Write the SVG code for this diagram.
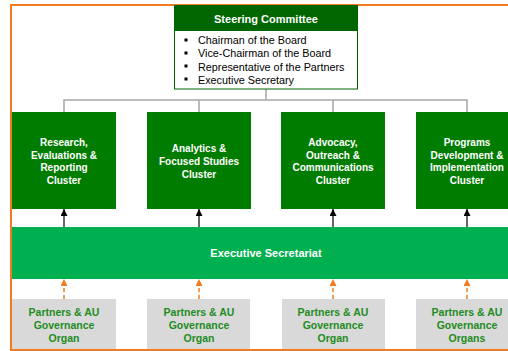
<svg xmlns="http://www.w3.org/2000/svg" width="508" height="351" viewBox="0 0 508 351">
<defs>
<marker id="ab" markerWidth="7" markerHeight="7" refX="7" refY="3.5" orient="auto" markerUnits="userSpaceOnUse" viewBox="0 0 7 7">
<path d="M0,0 L7,3.5 L0,7 Z" fill="#000"/>
</marker>
<marker id="ao" markerWidth="7" markerHeight="7" refX="7" refY="3.5" orient="auto" markerUnits="userSpaceOnUse" viewBox="0 0 7 7">
<path d="M0,0 L7,3.5 L0,7 Z" fill="#f47a20"/>
</marker>
</defs>
<style>
text{font-family:"Liberation Sans",Arial,sans-serif;}
.cl rect{fill:#007c00;}
.cl text{fill:#fff;font-weight:bold;font-size:10px;text-anchor:middle;}
.pa rect{fill:#d9d9d9;}
.pa text{fill:#1e8c1e;font-weight:bold;font-size:10.5px;text-anchor:middle;}
.gl{stroke:#a6a6a6;stroke-width:1.5;fill:none;}
.bl{stroke:#000;stroke-width:1.2;fill:none;}
.ol{stroke:#f47a20;stroke-width:1.5;stroke-dasharray:4,3;fill:none;}
.bt{font-size:10.8px;fill:#000;}
</style>
<rect x="0" y="0" width="508" height="351" fill="#fff"/>
<rect id="frame" x="11" y="5" width="520" height="345" fill="none" stroke="#f47a20" stroke-width="2"/>

<g id="connectors">
<path class="gl" d="M266,89 V100 M64,112 V100 H467 V112 M199,100 V112 M333,100 V112"/>
<line class="bl" x1="64" y1="227" x2="64" y2="209" marker-end="url(#ab)"/>
<line class="bl" x1="199" y1="227" x2="199" y2="209" marker-end="url(#ab)"/>
<line class="bl" x1="333" y1="227" x2="333" y2="209" marker-end="url(#ab)"/>
<line class="bl" x1="467" y1="227" x2="467" y2="209" marker-end="url(#ab)"/>
<line class="ol" x1="64" y1="299" x2="64" y2="279" marker-end="url(#ao)"/>
<line class="ol" x1="199" y1="299" x2="199" y2="279" marker-end="url(#ao)"/>
<line class="ol" x1="333" y1="299" x2="333" y2="279" marker-end="url(#ao)"/>
<line class="ol" x1="467" y1="299" x2="467" y2="279" marker-end="url(#ao)"/>
</g>

<g id="steering">
<rect x="174.5" y="5.5" width="183" height="83.5" fill="#fff" stroke="#006600" stroke-width="1"/>
<rect x="174.5" y="5.5" width="183" height="25.5" fill="#006600"/>
<text x="266" y="23" text-anchor="middle" fill="#fff" font-weight="bold" font-size="11px">Steering Committee</text>
<g fill="#000">
<rect x="184.5" y="38.5" width="3" height="3"/>
<rect x="184.5" y="51.5" width="3" height="3"/>
<rect x="184.5" y="64.5" width="3" height="3"/>
<rect x="184.5" y="77.5" width="3" height="3"/>
</g>
<text class="bt" x="198" y="44">Chairman of the Board</text>
<text class="bt" x="198" y="57">Vice-Chairman of the Board</text>
<text class="bt" x="198" y="70.5">Representative of the Partners</text>
<text class="bt" x="198" y="83.5">Executive Secretary</text>
</g>

<g id="cluster1" class="cl">
<rect x="12" y="112" width="104" height="97"/>
<text x="64" y="145.5">Research,</text>
<text x="64" y="158.5">Evaluations &amp;</text>
<text x="64" y="171">Reporting</text>
<text x="64" y="184">Cluster</text>
</g>
<g id="cluster2" class="cl">
<rect x="147" y="112" width="104" height="97"/>
<text x="199" y="152">Analytics &amp;</text>
<text x="199" y="165">Focused Studies</text>
<text x="199" y="177.5">Cluster</text>
</g>
<g id="cluster3" class="cl">
<rect x="281" y="112" width="104" height="97"/>
<text x="333" y="145.5">Advocacy,</text>
<text x="333" y="158.5">Outreach &amp;</text>
<text x="333" y="171">Communications</text>
<text x="333" y="184">Cluster</text>
</g>
<g id="cluster4" class="cl">
<rect x="416" y="112" width="104" height="97"/>
<text x="467" y="145.5">Programs</text>
<text x="467" y="158.5">Development &amp;</text>
<text x="467" y="171">Implementation</text>
<text x="467" y="184">Cluster</text>
</g>

<g id="secretariat">
<rect x="12" y="227" width="510" height="52" fill="#00b050"/>
<text x="266" y="257" text-anchor="middle" fill="#fff" font-weight="bold" font-size="11px">Executive Secretariat</text>
</g>

<g id="partners1" class="pa">
<rect x="12" y="299" width="104" height="50"/>
<text x="64" y="316">Partners &amp; AU</text>
<text x="64" y="329">Governance</text>
<text x="64" y="342">Organ</text>
</g>
<g id="partners2" class="pa">
<rect x="147" y="299" width="103" height="50"/>
<text x="199" y="316">Partners &amp; AU</text>
<text x="199" y="329">Governance</text>
<text x="199" y="342">Organ</text>
</g>
<g id="partners3" class="pa">
<rect x="282" y="299" width="103" height="50"/>
<text x="333" y="316">Partners &amp; AU</text>
<text x="333" y="329">Governance</text>
<text x="333" y="342">Organ</text>
</g>
<g id="partners4" class="pa">
<rect x="416" y="299" width="104" height="50"/>
<text x="467" y="316">Partners &amp; AU</text>
<text x="467" y="329">Governance</text>
<text x="467" y="342">Organs</text>
</g>
</svg>
